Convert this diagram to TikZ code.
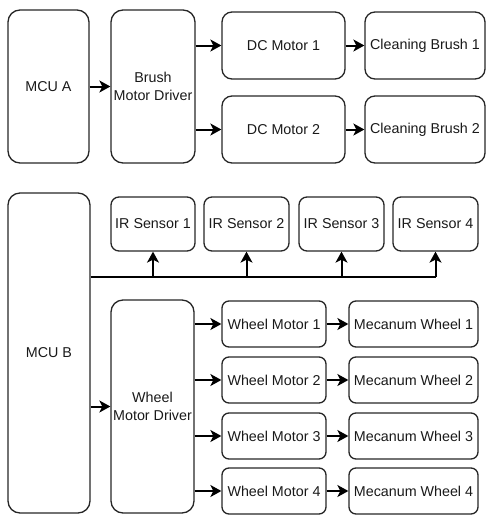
\documentclass[tikz,border=0pt]{standalone}
\usepackage{fontspec}
\setmainfont{Liberation Sans}
\usetikzlibrary{arrows.meta,calc}
\begin{document}
\begin{tikzpicture}[x=1pt,y=-1pt,
  box/.style={draw=black!85,line width=1.3pt,rounded corners=#1,align=center,inner sep=0pt,
     font=\fontsize{14.3}{18}\selectfont,text=black!90},
  box/.default=8pt,
  arr/.style={line width=2pt,draw=black,-{Stealth[length=11pt,width=12pt,inset=3pt]}},
  bus/.style={line width=2pt,draw=black}]
\useasboundingbox (0,0) rectangle (486,515);
% top group
\node[box=12pt,minimum width=81pt,minimum height=153pt] (mcuA) at (48.5,86.5) {MCU A};
\node[box=12pt,minimum width=84pt,minimum height=153pt] (bdrv) at (153,86.5) {Brush\\Motor Driver};
\node[box=10pt,minimum width=123pt,minimum height=67pt] (dc1) at (283.5,45.5) {DC Motor 1};
\node[box=10pt,minimum width=123pt,minimum height=67pt] (dc2) at (283.5,129.5) {DC Motor 2};
\node[box=10pt,minimum width=120pt,minimum height=67pt] (cb1) at (425,45.5) {Cleaning Brush 1};
\node[box=10pt,minimum width=120pt,minimum height=67pt] (cb2) at (425,129.5) {Cleaning Brush 2};
\draw[arr] (mcuA.east) -- (bdrv.west);
\draw[arr] (bdrv.east |- dc1.west) -- (dc1.west);
\draw[arr] (bdrv.east |- dc2.west) -- (dc2.west);
\draw[arr] (dc1.east) -- (cb1.west);
\draw[arr] (dc2.east) -- (cb2.west);
% bottom group
\node[box=12pt,minimum width=82pt,minimum height=320pt] (mcuB) at (49,353) {MCU B};
\node[box=8pt,minimum width=84pt,minimum height=54pt] (ir1) at (153,224) {IR Sensor 1};
\node[box=8pt,minimum width=85pt,minimum height=54pt] (ir2) at (246.5,224) {IR Sensor 2};
\node[box=8pt,minimum width=85pt,minimum height=54pt] (ir3) at (341.5,224) {IR Sensor 3};
\node[box=8pt,minimum width=85pt,minimum height=54pt] (ir4) at (435.5,224) {IR Sensor 4};
\coordinate (busL) at (mcuB.east |- 0,277);
\coordinate (busR) at (ir4.south |- 0,277);
\draw[bus] (busL) -- (busR);
\foreach \s in {ir1,ir2,ir3,ir4}{
  \draw[arr] (\s.south |- busL) -- (\s.south);
}
\node[box=12pt,minimum width=83pt,minimum height=213pt] (wdrv) at (152.5,406.5) {Wheel\\Motor Driver};
\draw[arr] (mcuB.east |- wdrv.west) -- (wdrv.west);
\foreach \i/\y in {1/324,2/380,3/436,4/491}{
  \node[box=7pt,minimum width=104pt,minimum height=46pt] (wm\i) at (274,\y) {Wheel Motor \i};
  \node[box=7pt,minimum width=129pt,minimum height=46pt] (mw\i) at (413.5,\y) {Mecanum Wheel \i};
  \draw[arr] (wdrv.east |- wm\i.west) -- (wm\i.west);
  \draw[arr] (wm\i.east) -- (mw\i.west);
}
\end{tikzpicture}
\end{document}
